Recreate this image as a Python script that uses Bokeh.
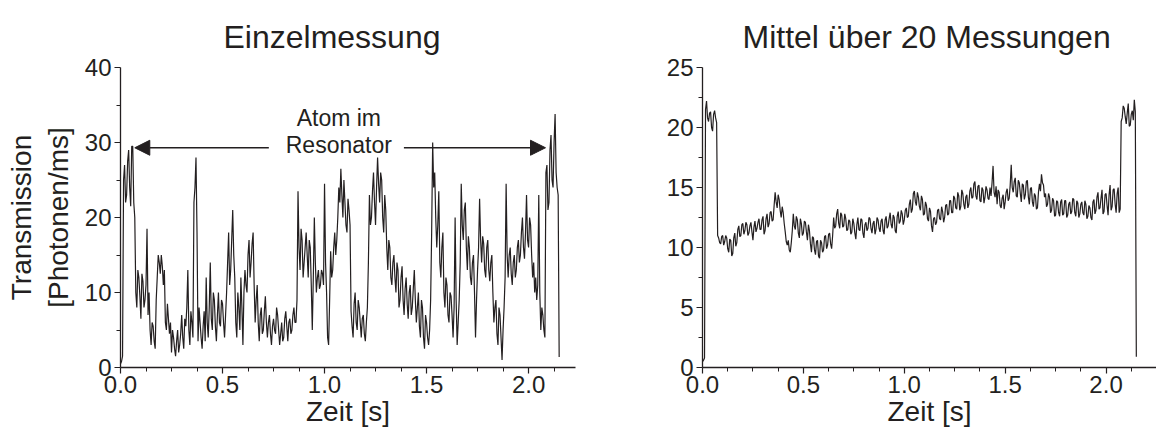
import numpy as np
from bokeh.plotting import figure
from bokeh.layouts import row
from bokeh.models import (Range1d, FixedTicker, PrintfTickFormatter, Arrow, NormalHead,
                          Label, Title)
from bokeh.embed import file_html
from bokeh.resources import INLINE

dt = 0.005
einzel = [
    0.5, 0.8, 1.5, 25, 27, 22, 23, 27.5, 29, 24,
    21.5, 29.5, 29.5, 22, 20, 10, 8, 13, 12, 9.5,
    6.5, 12.5, 11.5, 8, 9, 11, 18.5, 7, 10, 5,
    3, 6, 5.5, 3.5, 2.5, 9, 12, 15, 14, 12.5,
    15, 13.5, 11, 13, 6, 5, 8.5, 6.5, 4.5, 6,
    2, 5, 4, 2.5, 1.5, 3.5, 5, 2, 3, 4.5,
    7, 4, 2.5, 6.5, 5.5, 8, 13, 5, 3, 7.5,
    6, 4, 22, 24, 28, 18, 3.5, 8, 6, 4,
    2.5, 5.5, 7.5, 3.5, 12, 6, 4, 8, 14, 6.5,
    5, 10, 9, 5.5, 3.5, 7, 10, 6, 5.5, 9,
    8.5, 6, 4, 7, 10, 14, 18, 11, 13, 17,
    21, 15, 12, 6, 4, 10, 8, 5, 12, 8,
    3, 10, 13, 11, 10, 15, 17, 12, 14, 16.5,
    18, 11, 6, 9, 11, 6, 3.5, 7, 8, 4.5,
    5, 7.5, 9.5, 6, 4, 6, 7, 4.5, 3, 5.5,
    6.5, 5, 4.5, 8, 7, 5, 3, 4.5, 6, 3.5,
    4, 6.5, 7.5, 5.5, 3.5, 6, 6.5, 4.5, 5, 7,
    8, 6, 6, 9, 23.5, 16, 13, 18.5, 17, 12,
    14, 16, 18, 15, 12, 17, 16, 11, 5, 12,
    20, 14, 10, 12, 13, 10.5, 11, 13, 12.5, 11,
    24.5, 14, 10, 4, 3, 9, 15.5, 12, 13, 16,
    18, 15, 17, 20, 24, 22, 26.5, 23, 20, 25,
    22, 19, 18, 22.5, 21, 19, 7.5, 5.5, 4, 8.5,
    10, 6, 5, 9, 8, 6, 4, 6.5, 7, 4.5,
    3.5, 6, 8, 14, 23, 19, 20, 23.5, 26, 22,
    19, 24, 28, 24.5, 22, 26, 25, 20, 18, 23,
    21, 16, 13, 17, 16, 12, 11, 14, 15, 12,
    10, 14, 13, 8, 9, 12, 13.5, 9, 7, 10.5,
    12, 8.5, 6.5, 10, 11, 7, 8, 10.5, 13, 9,
    6, 8, 10, 5.5, 4, 9, 8, 4, 2.5, 7,
    6, 4, 3, 5, 9, 18, 30, 24, 26, 20,
    16, 19, 23.5, 14, 12, 16, 18, 10, 8, 12,
    11, 7, 6, 10, 9.5, 7, 4, 8, 20, 9,
    3, 6, 9, 14, 24.5, 19, 17, 21, 22, 16,
    13, 17.5, 16, 12, 11, 14, 15, 10, 4, 9,
    13, 16, 22.5, 17, 14, 17.5, 16.5, 13, 12, 16,
    17, 13, 11.5, 14, 15, 10, 6, 8, 9, 4.5,
    3, 8, 7, 4, 1, 5, 8, 12, 24.5, 15,
    12, 15, 16, 12.5, 11, 14, 15, 12, 13, 16,
    17, 14, 15, 18, 20, 16, 14.5, 18, 23, 17,
    16, 20, 19, 15, 12, 14, 10, 12, 9, 11,
    23, 10, 5, 8, 7, 5, 4, 26, 27, 21,
    22, 29, 31, 25, 24, 30, 33.8, 26, 24, 23,
    1.4,
]
mittel = [
    0.5, 0.6, 0.8, 21.5, 22.2, 20.8, 20.5, 21.2, 21.3, 20,
    19.7, 21.1, 21.4, 20.8, 20.4, 11, 10.8, 10.4, 10.3, 10.9,
    11, 10.2, 10.5, 11, 10.8, 9.9, 9.6, 10.7, 10.6, 9.3,
    9.5, 10.8, 11.2, 10.1, 10.4, 11.5, 11.8, 10.9, 11, 11.9,
    12, 11.1, 11.4, 12.1, 11.9, 11, 11.2, 11.8, 12.1, 11.3,
    10.6, 11.7, 12.2, 11.3, 11.6, 12.1, 12.4, 11.5, 11.5, 12.3,
    12.6, 11.1, 11.4, 12.4, 12.8, 11.7, 12, 12.9, 13, 12.2,
    12.3, 13.5, 14.6, 13.8, 13.3, 14.4, 14, 13.1, 12.5, 13.4,
    12.9, 12, 11.3, 10.5, 10.2, 10.6, 9.8, 9.6, 10.4, 11.4,
    12.8, 11.8, 11.5, 12.6, 12.3, 11.2, 10.8, 12.4, 12, 11,
    11.2, 12.2, 12.1, 11.3, 10.6, 11.9, 11.4, 10.3, 9.6, 10.9,
    10.8, 9.8, 9.4, 10.5, 10.6, 9.3, 9.1, 10.6, 10.4, 9.6,
    9.8, 10.9, 11, 9.9, 10.2, 11.1, 11.2, 10.3, 9.9, 11,
    12.5, 11.6, 11.8, 12.8, 13.2, 12, 11.6, 12.9, 12.7, 11.7,
    11.8, 12.8, 12.4, 11.4, 11.5, 12.3, 12.2, 11.1, 11.3, 12.4,
    12, 11.2, 10.7, 11.9, 12.5, 11.5, 11.4, 12.4, 12.3, 11.2,
    10.8, 11.9, 12.1, 11.4, 11.6, 12.5, 12.4, 11.6, 11.2, 12,
    12.2, 11.1, 11.5, 12.5, 12.3, 11.6, 11.3, 12.2, 12.4, 11.4,
    11.1, 12.3, 12.6, 11.6, 11.8, 12.4, 12.9, 11.9, 11.6, 12.7,
    12.5, 11.4, 11.2, 12.6, 13, 12, 12.2, 13.1, 12.8, 11.9,
    12.3, 13.1, 13.3, 12.5, 12.6, 13.6, 14, 12.9, 13.2, 14.5,
    14.7, 13.8, 13.5, 14.6, 14.2, 13.4, 13.1, 14.3, 14, 12.7,
    12.8, 13.8, 13.5, 12.4, 12.2, 13.3, 13, 11.8, 11.3, 12.4,
    12.5, 11.9, 12.1, 13.1, 13.2, 12.4, 12.3, 13.4, 13, 12.1,
    12.5, 13.5, 13.6, 12.7, 12.8, 13.9, 13.9, 12.9, 12.9, 14.3,
    14.1, 13.3, 13.2, 14.6, 14.3, 13.1, 13.4, 14.8, 14.5, 13.6,
    13.2, 14.2, 14.4, 13.3, 13.6, 14.7, 15, 14.1, 14.2, 15.3,
    15.5, 14.3, 14, 15.1, 15.2, 13.9, 13.8, 15, 14.8, 13.7,
    14.2, 15.1, 14.8, 14.1, 14, 15, 14.3, 15.4, 16.8, 14.6,
    14.2, 15.1, 13.6, 14.8, 14.6, 13.5, 13.3, 14.1, 14.4, 13.2,
    13.8, 14.6, 14.9, 13.9, 14.1, 15.2, 16.9, 15, 14.6, 15.5,
    15.8, 14.3, 14.2, 15.6, 15.4, 14.5, 13.8, 15.3, 15.2, 14,
    14.4, 15.5, 15.6, 14.2, 13.6, 14.9, 15, 13.8, 13.4, 14.5,
    14.3, 13.2, 13.3, 14.6, 15.3, 14.7, 16.1, 15.4, 15.2, 14.2,
    14.5, 13.4, 13.6, 14.5, 14.2, 12.9, 13.1, 14.1, 13.9, 12.6,
    12.7, 13.9, 13.8, 12.9, 12.6, 13.8, 14, 12.7, 12.8, 13.9,
    13.9, 12.5, 12.7, 13.6, 13.8, 12.8, 13, 14.1, 14, 12.9,
    12.6, 13.9, 13.7, 12.5, 12.8, 13.6, 13.8, 12.9, 12.7, 13.9,
    13.6, 12.4, 12.6, 13.5, 13.3, 12.5, 12.3, 13.8, 14, 12.8,
    13.1, 14.2, 14.6, 13.2, 13.3, 14.1, 14.8, 12.8, 13, 14.4,
    14.5, 13.5, 12.7, 14.4, 15.2, 13.1, 13.4, 14.8, 14.9, 13.6,
    12.9, 14.5, 15, 12.9, 13.2, 20.5, 20.8, 21.8, 21.6, 20.9,
    20.3, 21.2, 22, 20.1, 20.2, 21.1, 21.4, 20.6, 22.3, 21.3,
    0.9,
]
x_ticks = [0.0, 0.5, 1.0, 1.5, 2.0]
x_minor = [0.125, 0.25, 0.375, 0.625, 0.75, 0.875, 1.125, 1.25, 1.375,
           1.625, 1.75, 1.875, 2.125]
y_ticks_left = [0, 10, 20, 30, 40]
y_minor_left = [5, 15, 25, 35]
y_ticks_right = [0, 5, 10, 15, 20, 25]
y_minor_right = [2.5, 7.5, 12.5, 17.5, 22.5]
title_left = "Einzelmessung"
title_right = "Mittel über 20 Messungen"
x_label = "Zeit [s]"
y_label = "Transmission\n[Photonen/ms]"
annot_lines = ["Atom im", "Resonator"]

t_einzel = np.arange(len(einzel)) * dt
t_mittel = np.arange(len(mittel)) * dt

INK = "#231f20"
FONT = "Liberation Sans"


def style(p, yt, ym):
    p.outline_line_color = None
    p.xgrid.visible = False
    p.ygrid.visible = False
    p.background_fill_color = None
    p.border_fill_color = None
    for ax in (p.xaxis[0], p.yaxis[0]):
        ax.axis_line_color = INK
        ax.axis_line_width = 1.3
        ax.major_tick_line_color = INK
        ax.minor_tick_line_color = INK
        ax.major_tick_line_width = 1.2
        ax.minor_tick_line_width = 1.0
        ax.major_tick_out = 6
        ax.major_tick_in = 0
        ax.minor_tick_out = 4
        ax.minor_tick_in = 0
        ax.major_label_text_font = FONT
        ax.major_label_text_font_size = "24px"
        ax.major_label_text_color = INK
        ax.axis_label_text_font = FONT
        ax.axis_label_text_font_size = "28px"
        ax.axis_label_text_font_style = "normal"
        ax.axis_label_text_color = INK
    p.xaxis[0].ticker = FixedTicker(ticks=x_ticks, minor_ticks=x_minor)
    p.xaxis[0].formatter = PrintfTickFormatter(format="%.1f")
    p.xaxis[0].major_label_standoff = 2
    p.xaxis[0].axis_label = x_label
    p.xaxis[0].axis_label_standoff = 0
    p.yaxis[0].ticker = FixedTicker(ticks=yt, minor_ticks=ym)
    p.yaxis[0].formatter = PrintfTickFormatter(format="%d")
    p.yaxis[0].major_label_standoff = 3


# ---------------- left panel ----------------
p1 = figure(width=578, height=434, output_backend="svg", toolbar_location=None,
            x_range=Range1d(0, 2.23), y_range=Range1d(0, 40),
            min_border_left=120, min_border_right=3, min_border_top=67,
            min_border_bottom=67, title=None)
style(p1, y_ticks_left, y_minor_left)
p1.yaxis[0].axis_label = y_label
p1.yaxis[0].axis_label_standoff = 8
p1.line(t_einzel, einzel, line_color=INK, line_width=1.2)
p1.add_layout(Title(text=title_left, text_font=FONT, text_font_size="32px",
                    text_font_style="normal", text_color=INK, align="left",
                    offset=103, standoff=26), "above")

head_l = NormalHead(size=15, fill_color=INK, line_color=INK, line_width=1)
head_r = NormalHead(size=15, fill_color=INK, line_color=INK, line_width=1)
p1.add_layout(Arrow(end=head_l, x_start=0.727, y_start=29.3, x_end=0.07, y_end=29.3,
                    line_color=INK, line_width=1.3))
p1.add_layout(Arrow(end=head_r, x_start=1.389, y_start=29.3, x_end=2.083, y_end=29.3,
                    line_color=INK, line_width=1.3))
for txt, yy in zip(annot_lines, [33.3, 29.7]):
    p1.add_layout(Label(x=1.07, y=yy, text=txt, text_align="center",
                        text_baseline="middle", text_font=FONT,
                        text_font_size="23px", text_color=INK))

# ---------------- right panel ----------------
p2 = figure(width=578, height=434, output_backend="svg", toolbar_location=None,
            x_range=Range1d(0, 2.25), y_range=Range1d(0, 25),
            min_border_left=124, min_border_right=0, min_border_top=67,
            min_border_bottom=67, title=None)
style(p2, y_ticks_right, y_minor_right)
p2.line(t_mittel, mittel, line_color=INK, line_width=1.2)
p2.add_layout(Title(text=title_right, text_font=FONT, text_font_size="32px",
                    text_font_style="normal", text_color=INK, align="left",
                    offset=40, standoff=26), "above")

layout = row(p1, p2)
layout.spacing = 0
open("out.html", "w").write(file_html(layout, INLINE))
